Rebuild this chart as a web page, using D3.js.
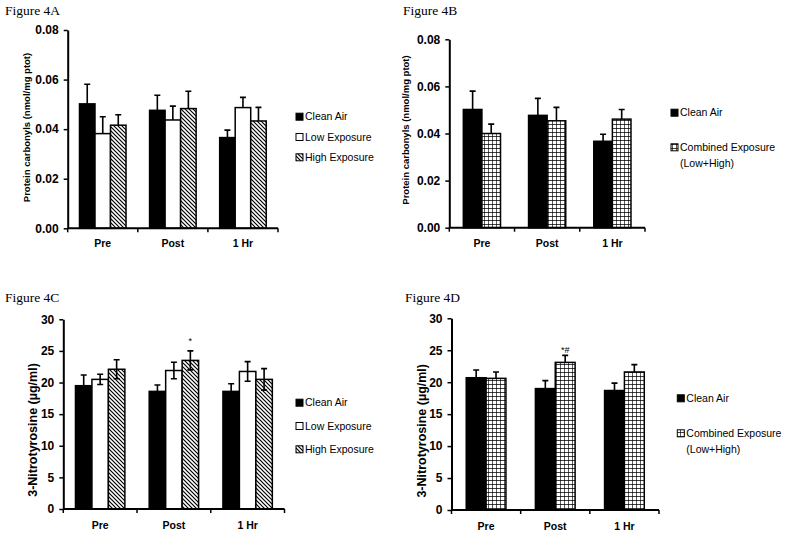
<!DOCTYPE html>
<html>
<head>
<meta charset="utf-8">
<script src="https://cdn.jsdelivr.net/npm/d3@7"></script>
<style>
  body { margin: 0; background: #fff; }
  text { fill: #000; }
</style>
</head>
<body>
<div id="chart"></div>
<script>
// canvas size
const width = 785; const height = 536;

// categories (time points)
const categories = ["Pre", "Post", "1 Hr"];

// Figure 4A - protein carbonyls, three groups
const aSeries = ["Clean Air", "Low Exposure", "High Exposure"];
const aClean = [0.0502, 0.0476, 0.0366];
const aCleanSE = [0.0079, 0.0061, 0.0030];
const aLow = [0.0382, 0.0437, 0.0487];
const aLowSE = [0.0068, 0.0056, 0.0041];
const aHigh = [0.0416, 0.0483, 0.0433];
const aHighSE = [0.0042, 0.0070, 0.0055];

// Figure 4B - protein carbonyls, clean vs combined
const bSeries = ["Clean Air", "Combined Exposure|(Low+High)"];
const bClean = [0.0502, 0.0477, 0.0367];
const bCleanSE = [0.0078, 0.0072, 0.0030];
const bCombined = [0.0400, 0.0454, 0.0461];
const bCombinedSE = [0.0040, 0.0057, 0.0041];

// Figure 4C - 3-nitrotyrosine, three groups
const cSeries = ["Clean Air", "Low Exposure", "High Exposure"];
const cClean = [19.5, 18.6, 18.6];
const cCleanSE = [1.7, 1.0, 1.2];
const cLow = [20.5, 21.9, 21.75];
const cLowSE = [0.8, 1.3, 1.55];
const cHigh = [22.1, 23.5, 20.5];
const cHighSE = [1.5, 1.5, 1.7];

// Figure 4D - 3-nitrotyrosine, clean vs combined
const dSeries = ["Clean Air", "Combined Exposure|(Low+High)"];
const dClean = [20.7, 19.0, 18.7];
const dCleanSE = [1.2, 1.25, 1.15];
const dCombined = [20.6, 23.1, 21.6];
const dCombinedSE = [1.0, 1.1, 1.15];

// tick values
const carbTicks = [0, 0.02, 0.04, 0.06, 0.08];
const nitroTicks = [0, 5, 10, 15, 20, 25, 30];

const svg = d3.select('#chart')
  .append('svg')
    .attr('width', width)
    .attr('height', height)
    .style('background', '#fff');

// fill patterns
const defs = svg.append('defs');
const diag = defs.append('pattern')
    .attr('id', 'diag')
    .attr('patternUnits', 'userSpaceOnUse')
    .attr('width', 4).attr('height', 4);
diag.append('rect').attr('width', 4).attr('height', 4).attr('fill', '#fff');
diag.append('path')
    .attr('d', 'M-1,-1 L5,5 M-1,3 L1,5 M3,-1 L5,1')
    .attr('stroke', '#000').attr('stroke-width', 1.2);

const grid = defs.append('pattern')
    .attr('id', 'grid')
    .attr('patternUnits', 'userSpaceOnUse')
    .attr('width', 4).attr('height', 4);
grid.append('rect').attr('width', 4).attr('height', 4).attr('fill', '#fff');
grid.append('path')
    .attr('d', 'M0,0 L4,0 M0,0 L0,4')
    .attr('stroke', '#000').attr('stroke-width', 1.3);

const sans = '"Liberation Sans", Arial, sans-serif';
const serif = '"Liberation Serif", "Times New Roman", serif';

function drawPanel(cfg) {
  const g = svg.append('g');

  // title
  g.append('text')
      .attr('x', cfg.titleX).attr('y', cfg.titleY)
      .style('font-family', serif).style('font-size', '13.5px')
      .text(cfg.title);

  const x = d3.scaleBand()
      .domain(categories)
      .range([cfg.x0, cfg.x1]);
  const bw = x.bandwidth();
  const gap = bw * (1 - cfg.groupFrac) / 2;
  const xs = d3.scaleBand()
      .domain(d3.range(cfg.series.length))
      .range([gap, bw - gap]);
  const y = d3.scaleLinear()
      .domain([0, d3.max(cfg.ticks)])
      .range([cfg.y0, cfg.y1]);

  // bars
  cfg.series.forEach((s, si) => {
    const rows = categories.map((c, i) => ({c: c, v: s.values[i], e: s.se[i]}));
    g.selectAll(null).data(rows).enter()
      .append('rect')
        .attr('x', d => x(d.c) + xs(si))
        .attr('y', d => y(d.v))
        .attr('width', xs.bandwidth())
        .attr('height', d => y(0) - y(d.v))
        .attr('fill', s.fill)
        .attr('stroke', '#000')
        .attr('stroke-width', 1.5);

    // error bars
    const cx = d => x(d.c) + xs(si) + xs.bandwidth() / 2;
    const lo = d => cfg.twoSided ? y(d.v - d.e) : y(d.v);
    g.selectAll(null).data(rows).enter()
      .append('path')
        .attr('d', d => {
          let p = `M${cx(d)},${lo(d)} L${cx(d)},${y(d.v + d.e)}`
            + ` M${cx(d) - 3},${y(d.v + d.e)} L${cx(d) + 3},${y(d.v + d.e)}`;
          if (cfg.twoSided) p += ` M${cx(d) - 3},${lo(d)} L${cx(d) + 3},${lo(d)}`;
          return p;
        })
        .attr('fill', 'none')
        .attr('stroke', '#000')
        .attr('stroke-width', 1.6);
  });

  // y axis
  const yAxis = d3.axisLeft(y)
      .tickValues(cfg.ticks)
      .tickSize(4)
      .tickSizeOuter(0)
      .tickPadding(5)
      .tickFormat(cfg.fmt);
  const yAxisG = g.append('g')
      .attr('transform', `translate(${cfg.x0},0)`)
      .call(yAxis);
  yAxisG.select('.domain').attr('stroke-width', 2);
  yAxisG.selectAll('.tick line').attr('stroke-width', 1.5);
  yAxisG.selectAll('text')
      .style('font-family', sans).style('font-size', '12px')
      .style('font-weight', 'bold').attr('fill', '#000');

  // x axis with ticks between categories
  g.append('line')
      .attr('x1', cfg.x0).attr('x2', cfg.x1)
      .attr('y1', y(0)).attr('y2', y(0))
      .attr('stroke', '#000').attr('stroke-width', 2);
  const bounds = categories.map(c => x(c)).concat([cfg.x1]);
  g.selectAll(null).data(bounds).enter()
    .append('line')
      .attr('x1', d => d).attr('x2', d => d)
      .attr('y1', y(0)).attr('y2', y(0) + 4)
      .attr('stroke', '#000').attr('stroke-width', 1.5);
  g.selectAll(null).data(categories).enter()
    .append('text')
      .attr('x', d => x(d) + bw / 2)
      .attr('y', cfg.catY)
      .attr('text-anchor', 'middle')
      .style('font-family', sans).style('font-size', '10.5px')
      .style('font-weight', 'bold')
      .text(d => d);

  // y axis label
  g.append('text')
      .attr('transform', `translate(${cfg.labelX},${cfg.labelY}) rotate(-90)`)
      .attr('text-anchor', 'middle')
      .attr('dy', '0.35em')
      .style('font-family', sans).style('font-size', cfg.labelSize)
      .style('font-weight', 'bold')
      .text(cfg.yLabel);

  // significance marks
  (cfg.marks || []).forEach(m => {
    const si = m.series;
    const d = cfg.series[si];
    const i = categories.indexOf(m.cat);
    g.append('text')
        .attr('x', x(m.cat) + xs(si) + xs.bandwidth() / 2)
        .attr('y', y(d.values[i] + d.se[i]) - m.lift)
        .attr('text-anchor', 'middle')
        .style('font-family', sans).style('font-size', '9px')
        .attr('fill', '#555')
        .text(m.text);
  });

  // legend
  cfg.series.forEach((s, si) => {
    const row = cfg.legendRows[si];
    g.append('rect')
        .attr('x', cfg.legendX).attr('y', row - 3.5)
        .attr('width', 7).attr('height', 7)
        .attr('fill', s.fill)
        .attr('stroke', '#000').attr('stroke-width', 1);
    const lines = s.name.split('|');
    lines.forEach((ln, li) => {
      g.append('text')
          .attr('x', cfg.legendX + 9)
          .attr('y', row + li * 16)
          .attr('dy', '0.35em')
          .style('font-family', sans).style('font-size', '10.5px')
          .text(ln);
    });
  });
}

drawPanel({
  title: 'Figure 4A', titleX: 5, titleY: 15,
  x0: 67.7, x1: 278, y0: 228.3, y1: 30, groupFrac: 0.664,
  ticks: carbTicks, fmt: d3.format('.2f'), twoSided: false,
  catY: 246.5, labelX: 26.7, labelY: 127.5, labelSize: '9.5px',
  yLabel: 'Protein carbonyls (nmol/mg ptot)',
  legendX: 296, legendRows: [116.7, 137, 157.3],
  series: [
    {name: aSeries[0], values: aClean, se: aCleanSE, fill: '#000'},
    {name: aSeries[1], values: aLow, se: aLowSE, fill: '#fff'},
    {name: aSeries[2], values: aHigh, se: aHighSE, fill: 'url(#diag)'}
  ]
});

drawPanel({
  title: 'Figure 4B', titleX: 403, titleY: 15,
  x0: 449.3, x1: 645, y0: 227.7, y1: 39.3, groupFrac: 0.57,
  ticks: carbTicks, fmt: d3.format('.2f'), twoSided: false,
  catY: 246.5, labelX: 406, labelY: 130, labelSize: '9.5px',
  yLabel: 'Protein carbonyls (nmol/mg ptot)',
  legendX: 671, legendRows: [112.7, 147.3],
  series: [
    {name: bSeries[0], values: bClean, se: bCleanSE, fill: '#000'},
    {name: bSeries[1], values: bCombined, se: bCombinedSE, fill: 'url(#grid)'}
  ]
});

drawPanel({
  title: 'Figure 4C', titleX: 5, titleY: 302,
  x0: 63.3, x1: 284.5, y0: 509, y1: 319.3, groupFrac: 0.67,
  ticks: nitroTicks, fmt: d3.format('d'), twoSided: true,
  catY: 528.5, labelX: 32.3, labelY: 430, labelSize: '12.5px',
  yLabel: '3-Nitrotyrosine (µg/ml)',
  legendX: 296, legendRows: [402.7, 426, 449.3],
  marks: [{series: 2, cat: 'Post', text: '*', lift: 7}],
  series: [
    {name: cSeries[0], values: cClean, se: cCleanSE, fill: '#000'},
    {name: cSeries[1], values: cLow, se: cLowSE, fill: '#fff'},
    {name: cSeries[2], values: cHigh, se: cHighSE, fill: 'url(#diag)'}
  ]
});

drawPanel({
  title: 'Figure 4D', titleX: 405, titleY: 302,
  x0: 451.5, x1: 659, y0: 510, y1: 318.3, groupFrac: 0.574,
  ticks: nitroTicks, fmt: d3.format('d'), twoSided: false,
  catY: 529.5, labelX: 421.7, labelY: 430.8, labelSize: '12.5px',
  yLabel: '3-Nitrotyrosine (µg/ml)',
  legendX: 677.3, legendRows: [398.3, 433.3],
  marks: [{series: 1, cat: 'Post', text: '*#', lift: 2}],
  series: [
    {name: dSeries[0], values: dClean, se: dCleanSE, fill: '#000'},
    {name: dSeries[1], values: dCombined, se: dCombinedSE, fill: 'url(#grid)'}
  ]
});
</script>
</body>
</html>
